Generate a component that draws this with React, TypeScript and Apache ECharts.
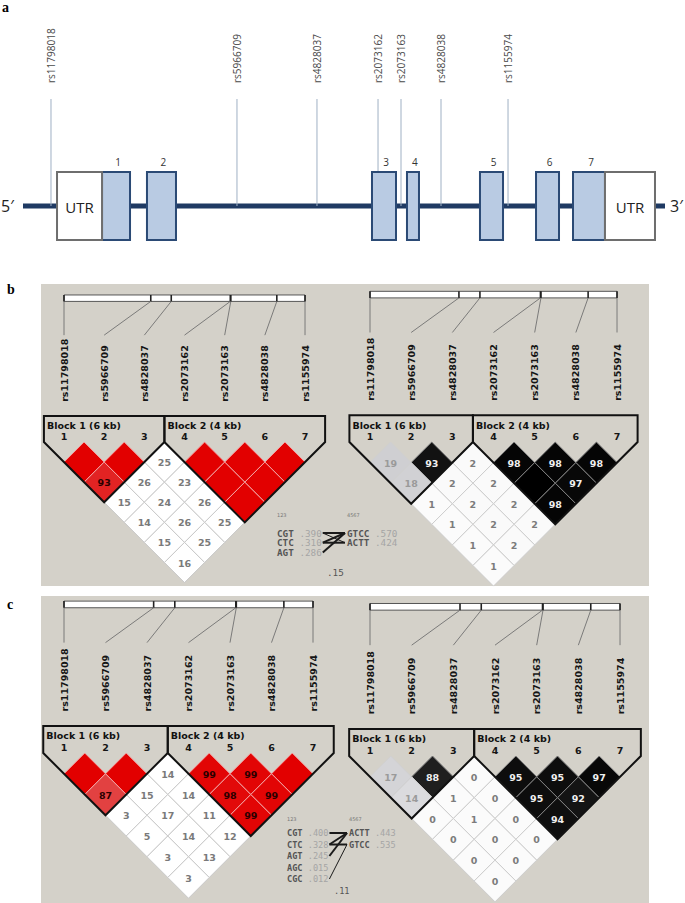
import React, { useEffect, useRef } from "react";
import * as echarts from "echarts";

// ---------- Panel a: gene structure (positions in % of the drawn gene line) ----------
const SNP_NAMES = ["rs11798018", "rs5966709", "rs4828037", "rs2073162", "rs2073163", "rs4828038", "rs1155974"];
const GENE_SNP_POS = [4.36, 33.33, 45.79, 55.3, 58.88, 65.11, 75.55];
const EXON_LABELS = ["1", "2", "3", "4", "5", "6", "7"];
const EXON_START = [12.31, 19.31, 54.36, 59.81, 71.18, 79.91, 85.67];
const EXON_END = [16.67, 23.83, 58.1, 61.68, 74.77, 83.49, 90.65];
const UTR_LABELS = ["UTR", "UTR"];
const UTR_START = [5.3, 90.65];
const UTR_END = [12.31, 98.44];
const GENE_LINE = [0, 100];

// ---------- LD plots ----------
const MARKER_NUMBERS = ["1", "2", "3", "4", "5", "6", "7"];
const PHYS_FRAC = [0, 0.36, 0.445, 0.69, 0.692, 0.883, 1];
const BLOCK_FIRST = [1, 4];
const BLOCK_LAST = [3, 7];
const BLOCK_LABELS = ["Block 1 (6 kb)", "Block 2 (4 kb)"];

// rows by marker distance: row r holds pairs (m, m + r)
const B_DPRIME = [
  [100, 100, 25, 100, 100, 100],
  [93, 26, 23, 100, 100],
  [15, 24, 26, 100],
  [14, 26, 25],
  [15, 25],
  [16],
];
const B_R2 = [
  [19, 93, 2, 98, 98, 98],
  [18, 2, 2, 100, 97],
  [1, 2, 2, 98],
  [1, 2, 2],
  [1, 2],
  [1],
];
const C_DPRIME = [
  [100, 100, 14, 99, 99, 100],
  [87, 15, 14, 98, 99],
  [3, 17, 11, 99],
  [5, 14, 12],
  [3, 13],
  [3],
];
const C_R2 = [
  [17, 88, 0, 95, 95, 97],
  [14, 1, 0, 95, 92],
  [0, 1, 0, 94],
  [0, 0, 0],
  [0, 0],
  [0],
];

// ---------- Haplotypes ----------
const B_HAP_LEFT = ["CGT", "CTC", "AGT"];
const B_HAP_LEFT_FREQ = [0.39, 0.31, 0.286];
const B_HAP_RIGHT = ["GTCC", "ACTT"];
const B_HAP_RIGHT_FREQ = [0.57, 0.424];
const B_HAP_LINKS = [[0, 0, 2], [1, 0, 2], [1, 1, 2], [2, 0, 2], [0, 1, 1]];
const B_MULTI_D = 0.15;

const C_HAP_LEFT = ["CGT", "CTC", "AGT", "AGC", "CGC"];
const C_HAP_LEFT_FREQ = [0.4, 0.328, 0.245, 0.015, 0.012];
const C_HAP_RIGHT = ["ACTT", "GTCC"];
const C_HAP_RIGHT_FREQ = [0.443, 0.535];
const C_HAP_LINKS = [[0, 0, 2], [1, 0, 2], [1, 1, 2], [2, 0, 2], [4, 1, 1]];
const C_MULTI_D = 0.11;

const BG = "#d4d1c9";
const LD_LAYOUT = [
  { x1: 64, d: 40.17, y0: 442 },
  { x1: 370, d: 41.17, y0: 442 },
  { x1: 64, d: 41.5, y0: 753 },
  { x1: 370, d: 41.67, y0: 756 },
];
const LD_ROWS = [B_DPRIME, B_R2, C_DPRIME, C_R2];
const LD_SCHEME = ["dprime", "r2", "dprime", "r2"];

const BOLD = '"DejaVu Sans", sans-serif';

function cellStyle(scheme: string, v: number) {
  if (scheme === "dprime") {
    if (v >= 80) {
      const g = Math.round((100 - v) * 5);
      return { fill: `rgb(226,${g},${g})`, stroke: "#f2a3a3", text: "#2a0000" };
    }
    return { fill: "#ffffff", stroke: "#c9c9c9", text: "#7a7a7a" };
  }
  const g = Math.round(255 * (1 - v / 100));
  if (g < 128) return { fill: `rgb(${g},${g},${g})`, stroke: "#808080", text: "#f0f0f0" };
  if (g < 235) return { fill: `rgb(${g},${g},${g + 3})`, stroke: "#d0d0d0", text: "#9a9a9a" };
  return { fill: `rgb(${Math.min(g, 251)},${Math.min(g, 251)},${Math.min(g, 251)})`, stroke: "#cdcdcd", text: "#7c7c7c" };
}

function ldSeries(gi: number) {
  const rows = LD_ROWS[gi + 0];
  const scheme = LD_SCHEME[gi];
  const axis = gi + 1;
  const cells: number[][] = [];
  rows.forEach((row, r) => row.forEach((v, m) => cells.push([m + 1, m + 2 + r, v])));

  const cellSeries = {
    type: "custom",
    xAxisIndex: axis,
    yAxisIndex: axis,
    clip: false,
    silent: true,
    z: 2,
    data: cells,
    renderItem: (_p: any, api: any) => {
      const i = api.value(0);
      const j = api.value(1);
      const v = api.value(2);
      const cx = (i + j) / 2;
      const cy = (j - i) / 2;
      const top = api.coord([cx, cy - 0.5]);
      const right = api.coord([cx + 0.5, cy]);
      const bottom = api.coord([cx, cy + 0.5]);
      const left = api.coord([cx - 0.5, cy]);
      const c = api.coord([cx, cy]);
      const st = cellStyle(scheme, v);
      const children: any[] = [
        { type: "polygon", shape: { points: [top, right, bottom, left] }, style: { fill: st.fill, stroke: st.stroke, lineWidth: 1 } },
      ];
      if (v < 100) {
        children.push({
          type: "text",
          x: c[0],
          y: c[1] + 0.5,
          style: { text: String(v), fill: st.text, font: `bold 9.5px ${BOLD}`, align: "center", verticalAlign: "middle" },
        });
      }
      return { type: "group", children };
    },
  };

  const blockSeries = {
    type: "custom",
    xAxisIndex: axis,
    yAxisIndex: axis,
    clip: false,
    silent: true,
    z: 4,
    data: BLOCK_FIRST.map((a, k) => [a, BLOCK_LAST[k]]),
    renderItem: (p: any, api: any) => {
      const a = api.value(0);
      const b = api.value(1);
      const pts = [
        api.coord([a - 0.5, -0.65]),
        api.coord([b + 0.5, -0.65]),
        api.coord([b + 0.5, 0]),
        api.coord([(a + b) / 2, (b - a) / 2 + 0.5]),
        api.coord([a - 0.5, 0]),
      ];
      const lab = api.coord([a - 0.5, -0.41]);
      return {
        type: "group",
        children: [
          { type: "polygon", shape: { points: pts }, style: { fill: "none", stroke: "#111", lineWidth: 2 } },
          {
            type: "text",
            x: lab[0] + 3,
            y: lab[1],
            style: { text: BLOCK_LABELS[p.dataIndex], fill: "#111", font: `bold 9.5px ${BOLD}`, align: "left", verticalAlign: "middle" },
          },
        ],
      };
    },
  };

  const markerSeries = {
    type: "custom",
    xAxisIndex: axis,
    yAxisIndex: axis,
    clip: false,
    silent: true,
    z: 4,
    data: PHYS_FRAC.map((f, k) => [k + 1, f]),
    renderItem: (p: any, api: any) => {
      const k = api.value(0);
      const f = api.value(1);
      const px = 1 + 6 * f;
      const children: any[] = [];
      if (p.dataIndex === 0) {
        const b0 = api.coord([1, -3.66]);
        const b1 = api.coord([7, -3.5]);
        children.push({
          type: "rect",
          shape: { x: b0[0], y: b0[1], width: b1[0] - b0[0], height: b1[1] - b0[1] },
          style: { fill: "#ffffff", stroke: "#555", lineWidth: 1 },
        });
      }
      const t0 = api.coord([px, -3.66]);
      const t1 = api.coord([px, -3.5]);
      children.push({ type: "line", shape: { x1: t0[0], y1: t0[1], x2: t1[0], y2: t1[1] }, style: { stroke: "#222", lineWidth: 1.6 } });
      const cEnd = api.coord([k, -2.66]);
      children.push({ type: "line", shape: { x1: t1[0], y1: t1[1], x2: cEnd[0], y2: cEnd[1] }, style: { stroke: "#707070", lineWidth: 0.9 } });
      const lab = api.coord([k, -1.0]);
      children.push({
        type: "text",
        x: lab[0],
        y: lab[1],
        rotation: Math.PI / 2,
        style: { text: SNP_NAMES[p.dataIndex], fill: "#151515", font: `bold 9.5px ${BOLD}`, align: "left", verticalAlign: "middle" },
      });
      const num = api.coord([k, -0.13]);
      children.push({
        type: "text",
        x: num[0],
        y: num[1],
        style: { text: MARKER_NUMBERS[p.dataIndex], fill: "#151515", font: `bold 9.5px ${BOLD}`, align: "center", verticalAlign: "middle" },
      });
      return { type: "group", children };
    },
  };
  return [cellSeries, blockSeries, markerSeries];
}

function fmtFreq(v: number) {
  return v.toFixed(3).slice(1);
}

function hapElements(
  left: string[], leftFreq: number[], right: string[], rightFreq: number[], links: number[][], multi: number,
  L: { xl: number; xr: number; y: number; dy: number; fs: number; headY: number; multiX: number; multiY: number }
) {
  const cw = L.fs * 0.602;
  const font = `${L.fs}px "DejaVu Sans Mono", monospace`;
  const bfont = `bold ${L.fs}px "DejaVu Sans Mono", monospace`;
  const els: any[] = [];
  els.push({ type: "text", x: L.xl, y: L.headY, z: 10, style: { text: "123", fill: "#777", font: `5px "DejaVu Sans"`, align: "left", verticalAlign: "middle" } });
  els.push({ type: "text", x: L.xr, y: L.headY, z: 10, style: { text: "4567", fill: "#777", font: `5px "DejaVu Sans"`, align: "left", verticalAlign: "middle" } });
  left.forEach((h, k) => {
    const y = L.y + k * L.dy;
    els.push({ type: "text", x: L.xl, y, z: 10, style: { text: h, fill: "#555", font: bfont, align: "left", verticalAlign: "middle" } });
    els.push({ type: "text", x: L.xl + (h.length + 1) * cw, y, z: 10, style: { text: fmtFreq(leftFreq[k]), fill: "#a5a5a5", font, align: "left", verticalAlign: "middle" } });
  });
  right.forEach((h, k) => {
    const y = L.y + k * L.dy;
    els.push({ type: "text", x: L.xr, y, z: 10, style: { text: h, fill: "#555", font: bfont, align: "left", verticalAlign: "middle" } });
    els.push({ type: "text", x: L.xr + (h.length + 1) * cw, y, z: 10, style: { text: fmtFreq(rightFreq[k]), fill: "#a5a5a5", font, align: "left", verticalAlign: "middle" } });
  });
  const lx = L.xl + 8 * cw + 1;
  const rx = L.xr - 2;
  links.forEach(([li, ri, w]) => {
    els.push({
      type: "line",
      z: 10,
      shape: { x1: lx, y1: L.y + li * L.dy, x2: rx, y2: L.y + ri * L.dy },
      style: { stroke: "#1a1a1a", lineWidth: w },
    });
  });
  els.push({ type: "text", x: L.multiX, y: L.multiY, z: 10, style: { text: fmtFreq(multi).replace(/0$/, ""), fill: "#555", font, align: "left", verticalAlign: "middle" } });
  return els;
}

function buildOption(): any {
  const grids: any[] = [{ left: 23, top: 99, width: 642, height: 214 }];
  LD_LAYOUT.forEach((g) => grids.push({ left: g.x1, top: g.y0 - 4 * g.d, width: 6 * g.d, height: 7.5 * g.d }));

  const xAxis = grids.map((_, i) => ({ type: "value", gridIndex: i, min: i === 0 ? 0 : 1, max: i === 0 ? 100 : 7, show: false }));
  const yAxis = grids.map((_, i) => ({
    type: "value", gridIndex: i, min: i === 0 ? -1 : -4, max: i === 0 ? 1 : 3.5, inverse: i !== 0, show: false,
  }));

  const geneLine = {
    type: "line",
    xAxisIndex: 0,
    yAxisIndex: 0,
    data: [[GENE_LINE[0], 0], [GENE_LINE[1], 0]],
    symbol: "none",
    silent: true,
    z: 1,
    lineStyle: { color: "#1f3a63", width: 5 },
  };

  const snpSeries = {
    type: "custom",
    xAxisIndex: 0,
    yAxisIndex: 0,
    clip: false,
    silent: true,
    z: 2,
    data: GENE_SNP_POS.map((p) => [p, 1]),
    renderItem: (p: any, api: any) => {
      const a = api.coord([api.value(0), 0]);
      const b = api.coord([api.value(0), api.value(1)]);
      return {
        type: "group",
        children: [
          { type: "line", shape: { x1: a[0], y1: a[1], x2: b[0], y2: b[1] }, style: { stroke: "#9fb0c4", lineWidth: 1 } },
          {
            type: "text",
            x: b[0],
            y: b[1] - 16,
            rotation: Math.PI / 2,
            style: { text: SNP_NAMES[p.dataIndex], fill: "#4a4a4a", font: '10px "Open Sans", sans-serif', align: "left", verticalAlign: "middle" },
          },
        ],
      };
    },
  };

  const boxRender = (labels: string[], kind: string) => (p: any, api: any) => {
    const a = api.coord([api.value(0), 0]);
    const b = api.coord([api.value(1), 0]);
    const rect = {
      type: "rect",
      shape: { x: a[0], y: a[1] - 34, width: b[0] - a[0], height: 68 },
      style: kind === "exon" ? { fill: "#b9cbe3", stroke: "#2b4a75", lineWidth: 2 } : { fill: "#ffffff", stroke: "#6e6e6e", lineWidth: 2 },
    };
    const txt =
      kind === "exon"
        ? { type: "text", x: (a[0] + b[0]) / 2 + 2, y: a[1] - 44, style: { text: labels[p.dataIndex], fill: "#333", font: '10px "Open Sans", sans-serif', align: "center", verticalAlign: "middle" } }
        : { type: "text", x: (a[0] + b[0]) / 2, y: a[1] + 1, style: { text: labels[p.dataIndex], fill: "#222", font: '15px "Open Sans", sans-serif', align: "center", verticalAlign: "middle" } };
    return { type: "group", children: [rect, txt] };
  };

  const exonSeries = {
    type: "custom", xAxisIndex: 0, yAxisIndex: 0, clip: false, silent: true, z: 3,
    data: EXON_START.map((s, k) => [s, EXON_END[k]]),
    renderItem: boxRender(EXON_LABELS, "exon"),
  };
  const utrSeries = {
    type: "custom", xAxisIndex: 0, yAxisIndex: 0, clip: false, silent: true, z: 3,
    data: UTR_START.map((s, k) => [s, UTR_END[k]]),
    renderItem: boxRender(UTR_LABELS, "utr"),
  };

  const series: any[] = [geneLine, snpSeries, exonSeries, utrSeries];
  for (let g = 0; g < 4; g++) series.push(...ldSeries(g));

  const letter = (t: string, x: number, y: number) => ({
    type: "text", x, y, z: 10,
    style: { text: t, fill: "#000", font: 'bold 14px "Liberation Serif", serif', align: "left", verticalAlign: "middle" },
  });

  const graphic: any[] = [
    { type: "rect", z: -10, shape: { x: 41, y: 284, width: 608, height: 302 }, style: { fill: BG } },
    { type: "rect", z: -10, shape: { x: 41, y: 596, width: 608, height: 307 }, style: { fill: BG } },
    letter("a", 2, 7),
    letter("b", 7, 289),
    letter("c", 7, 604),
    { type: "text", x: 1, y: 206, z: 10, style: { text: "5′", fill: "#222", font: '16px "Open Sans", sans-serif', align: "left", verticalAlign: "middle" } },
    { type: "text", x: 670, y: 206, z: 10, style: { text: "3′", fill: "#222", font: '16px "Open Sans", sans-serif', align: "left", verticalAlign: "middle" } },
    ...hapElements(B_HAP_LEFT, B_HAP_LEFT_FREQ, B_HAP_RIGHT, B_HAP_RIGHT_FREQ, B_HAP_LINKS, B_MULTI_D, {
      xl: 277, xr: 347, y: 533, dy: 9.7, fs: 9.3, headY: 515, multiX: 327, multiY: 572,
    }),
    ...hapElements(C_HAP_LEFT, C_HAP_LEFT_FREQ, C_HAP_RIGHT, C_HAP_RIGHT_FREQ, C_HAP_LINKS, C_MULTI_D, {
      xl: 287, xr: 349, y: 833, dy: 11.5, fs: 8.6, headY: 819, multiX: 334, multiY: 891,
    }),
  ];

  return {
    animation: false,
    backgroundColor: "#ffffff",
    grid: grids,
    xAxis,
    yAxis,
    series,
    graphic,
  };
}

export default function App() {
  const ref = useRef<HTMLDivElement>(null);
  useEffect(() => {
    if (!ref.current) return;
    const chart = echarts.init(ref.current, undefined, { renderer: "svg" });
    chart.setOption(buildOption());
    return () => chart.dispose();
  }, []);
  return <div ref={ref} style={{ position: "absolute", left: 0, top: 0, width: 685, height: 903 }} />;
}
